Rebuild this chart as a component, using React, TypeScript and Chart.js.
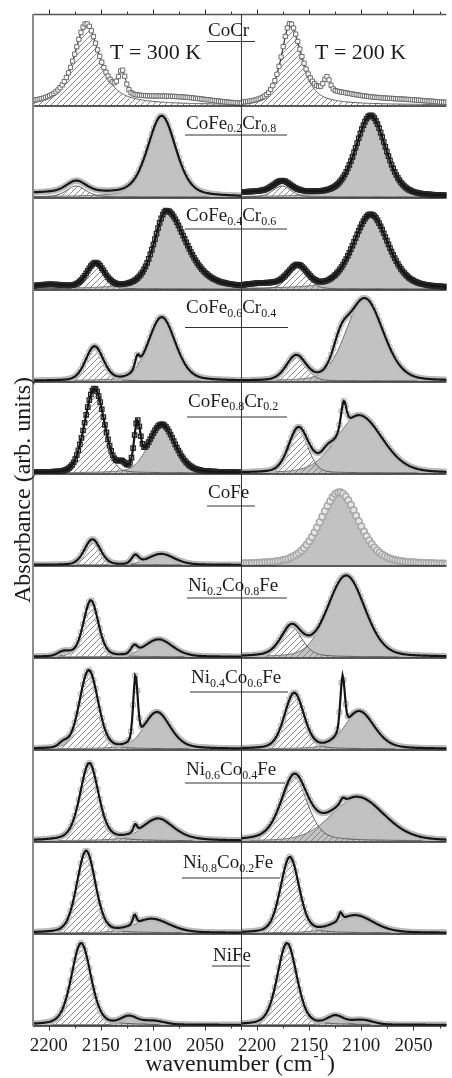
import React, { useEffect, useRef } from 'react';
import { Chart, registerables } from 'chart.js';

Chart.register(...registerables);

// ---------------- data ----------------
const ROW_LABELS: [string, boolean][][] = [
  [['CoCr', false]],
  [['CoFe', false], ['0.2', true], ['Cr', false], ['0.8', true]],
  [['CoFe', false], ['0.4', true], ['Cr', false], ['0.6', true]],
  [['CoFe', false], ['0.6', true], ['Cr', false], ['0.4', true]],
  [['CoFe', false], ['0.8', true], ['Cr', false], ['0.2', true]],
  [['CoFe', false]],
  [['Ni', false], ['0.2', true], ['Co', false], ['0.8', true], ['Fe', false]],
  [['Ni', false], ['0.4', true], ['Co', false], ['0.6', true], ['Fe', false]],
  [['Ni', false], ['0.6', true], ['Co', false], ['0.4', true], ['Fe', false]],
  [['Ni', false], ['0.8', true], ['Co', false], ['0.2', true], ['Fe', false]],
  [['NiFe', false]],
];
const TEMPERATURES = ['T = 300 K', 'T = 200 K'];
const X_TICKS_MAJOR = [2200, 2150, 2100, 2050];
const X_TICKS_MINOR = [2175, 2125, 2075, 2025];
const X_RANGE_LEFT = [2015, 2215];
const X_RANGE_RIGHT = [2018.4, 2215];
const X_TITLE = 'wavenumber (cm';
const X_TITLE_SUP = '-1';
const X_TITLE_END = ')';
const Y_TITLE = 'Absorbance (arb. units)';

// fitted bands:
// [centre (cm-1), height (fraction of panel), FWHM (cm-1), Lorentzian fraction, band, low-wavenumber width ratio]
// band: 'H' hatched, 'G' grey, 'N' not shaded
type Peak = [number, number, number, number, string, number?];
const PEAKS_300K: Peak[][] = [
  [[2164, 0.89, 28, 0.8, 'H', 1.1], [2129.5, 0.24, 8, 0.3, 'N'], [2080, 0.07, 80, 0, 'N']],
  [[2091.5, 0.88, 32, 0.35, 'G'], [2173.5, 0.12, 22, 0.3, 'H'], [2185, 0.05, 130, 0, 'N']],
  [[2087, 0.86, 28, 0.5, 'G', 1.6], [2155, 0.27, 20, 0.2, 'H'], [2200, 0.04, 40, 0, 'N']],
  [[2091.5, 0.70, 31, 0.3, 'G'], [2156, 0.37, 20, 0.2, 'H'], [2115, 0.12, 5, 0.2, 'N']],
  [[2156, 0.92, 22, 0.15, 'H'], [2115, 0.46, 7, 0.2, 'N'], [2091.5, 0.53, 30, 0.3, 'G'], [2130, 0.07, 8, 0, 'N']],
  [[2158, 0.28, 18, 0.2, 'H'], [2117, 0.09, 8, 0.2, 'N'], [2092, 0.12, 30, 0.3, 'G']],
  [[2159.5, 0.62, 17, 0.3, 'H'], [2185, 0.05, 14, 0, 'N'], [2118, 0.08, 7, 0.2, 'N'], [2094.5, 0.19, 32, 0.3, 'G']],
  [[2161.5, 0.86, 21, 0.2, 'H'], [2116.7, 0.69, 5, 0.2, 'N'], [2096, 0.40, 30, 0.35, 'G'], [2186, 0.05, 10, 0, 'N']],
  [[2161, 0.85, 21, 0.35, 'H'], [2117, 0.08, 4, 0.2, 'N'], [2095, 0.24, 36, 0.5, 'G']],
  [[2164, 0.90, 21, 0.25, 'H'], [2117.5, 0.10, 4, 0.2, 'N'], [2101, 0.15, 40, 0.3, 'G']],
  [[2168.8, 0.90, 22, 0.3, 'H'], [2123, 0.085, 18, 0.2, 'G'], [2100, 0.04, 25, 0, 'G']],
];
const PEAKS_200K: Peak[][] = [
  [[2168.5, 0.88, 20, 0.7, 'H', 1.3], [2133, 0.15, 7, 0.3, 'N'], [2125, 0.07, 50, 0.3, 'N'], [2075, 0.055, 100, 0, 'N']],
  [[2091, 0.89, 34, 0.35, 'G'], [2176, 0.12, 20, 0.3, 'H'], [2195, 0.05, 120, 0, 'N']],
  [[2091, 0.82, 40, 0.4, 'G'], [2161, 0.23, 22, 0.2, 'H'], [2195, 0.05, 50, 0, 'N']],
  [[2097, 0.91, 42, 0.2, 'G'], [2162.5, 0.27, 22, 0.2, 'H'], [2120, 0.2, 16, 0, 'N']],
  [[2160.5, 0.47, 22, 0.2, 'H'], [2117, 0.29, 6, 0.2, 'N'], [2102, 0.63, 52, 0.2, 'G'], [2133, 0.05, 10, 0, 'N']],
  [[2121, 0.80, 44, 0.4, 'G']],
  [[2167, 0.33, 24, 0.4, 'H'], [2114.5, 0.89, 42, 0.2, 'G']],
  [[2164.4, 0.61, 22, 0.25, 'H'], [2118, 0.58, 5, 0.2, 'N'], [2102, 0.41, 34, 0.3, 'G']],
  [[2164.4, 0.70, 30, 0.4, 'H'], [2103.6, 0.47, 60, 0.2, 'G'], [2118, 0.05, 5, 0.2, 'N']],
  [[2168.6, 0.83, 21, 0.25, 'H'], [2120, 0.08, 4, 0.2, 'N'], [2106, 0.19, 42, 0.3, 'G']],
  [[2171.3, 0.90, 22, 0.3, 'H'], [2125, 0.09, 18, 0.2, 'G'], [2100, 0.05, 25, 0, 'G']],
];
const MARKERS_300K = ['sqLight', 'circle', 'square', 'circle', 'square', 'circle', 'circle', 'circle', 'circle', 'circle', 'circle'];
const MARKERS_200K = ['sqLight', 'square', 'square', 'circle', 'circle', 'bigCircle', 'circle', 'circle', 'circle', 'circle', 'circle'];

// ---------------- layout / style ----------------
const W = 452;
const H = 1078;
const PAD = { left: 33, top: 14, right: 0, bottom: 52 };
const LEFT_WEIGHT = 211.3;
const RIGHT_WEIGHT = 207.7;
const LABEL_BASE = [22, 22.5, 23, 23, 24.5, 24, 25, 25, 25, 26, 27];
const LABEL_LINE_Y = [27.5, 29, 31, 37.5, 35, 32, 32, 34, 33, 36, 32];
const LABEL_LINE_X: [number, number][] = [
  [207, 255], [185, 287], [185, 287], [185, 288], [187, 287], [207, 255],
  [187, 287], [190, 288], [185, 285], [182, 280], [212, 250],
];
const SERIF = '"Liberation Serif", "Times New Roman", serif';
const TXT = '#1c1c1c';

const MARKER_STYLE: Record<string, any> = {
  sqLight: { pointStyle: 'rect', r: 3.0, border: '#6a6a6a', bg: '#ffffff', bw: 1, step: 2 },
  square: { pointStyle: 'rect', r: 3.1, border: '#262626', bg: 'rgba(255,255,255,0)', bw: 1.3, step: 1.5 },
  circle: { pointStyle: 'circle', r: 2.6, border: '#b9b9b9', bg: 'rgba(255,255,255,0)', bw: 1.2, step: 2 },
  bigCircle: { pointStyle: 'circle', r: 3.2, border: '#a8a8a8', bg: 'rgba(236,236,236,0.9)', bw: 1.6, step: 2.5 },
};

function bandValue(x: number, p: Peak): number {
  const [c, h, w, eta] = p;
  const ratio = x < c ? (p[5] ?? 1) : 1;
  const d = (x - c) / ((w / 2) * ratio);
  return h * (eta / (1 + d * d) + (1 - eta) * Math.exp(-Math.LN2 * d * d));
}

function total(x: number, peaks: Peak[]): number {
  let s = 0;
  for (const p of peaks) s += bandValue(x, p);
  return s;
}

function grid(step: number): number[] {
  const xs: number[] = [];
  for (let x = X_RANGE_LEFT[1]; x >= X_RANGE_LEFT[0] - 1e-6; x -= step) xs.push(x);
  return xs;
}

function buildDatasets(hatch: CanvasPattern | string) {
  const sets: any[] = [];
  const fine = grid(1);
  [PEAKS_300K, PEAKS_200K].forEach((panelPeaks, col) => {
    const xAxisID = col === 0 ? 'xL' : 'xR';
    const markerKinds = col === 0 ? MARKERS_300K : MARKERS_200K;
    panelPeaks.forEach((peaks, row) => {
      const yAxisID = 'y' + row;
      const common = { xAxisID, yAxisID, clip: 0, parsing: false, normalized: true, pointRadius: 0, tension: 0 };
      peaks.forEach((p) => {
        const kind = p[4];
        if (kind === 'N') return;
        const isH = kind === 'H';
        sets.push({
          ...common,
          data: fine.map((x) => ({ x, y: bandValue(x, p) })),
          fill: 'origin',
          backgroundColor: isH ? hatch : '#c2c2c2',
          borderColor: isH ? '#5a5a5a' : '#707070',
          borderWidth: 1,
          order: isH ? 5 : 6,
        });
      });
      const mk = MARKER_STYLE[markerKinds[row]];
      const mxs = grid(mk.step);
      sets.push({
        ...common,
        data: mxs.map((x) => ({ x, y: total(x, peaks) })),
        showLine: false,
        pointStyle: mk.pointStyle,
        pointRadius: mk.r,
        pointBorderColor: mk.border,
        pointBackgroundColor: mk.bg,
        pointBorderWidth: mk.bw,
        order: 2,
      });
      if (markerKinds[row] !== 'bigCircle') {
        const thin = markerKinds[row] === 'sqLight';
        sets.push({
          ...common,
          data: fine.map((x) => ({ x, y: total(x, peaks) })),
          fill: false,
          borderColor: thin ? '#3a3a3a' : '#151515',
          borderWidth: thin ? 1 : 2.2,
          order: thin ? 3 : 1,
        });
      }
    });
  });
  return sets;
}

function drawParts(ctx: CanvasRenderingContext2D, parts: [string, boolean][], x: number, y: number, size: number, subSize: number) {
  let cx = x;
  ctx.textAlign = 'left';
  ctx.textBaseline = 'alphabetic';
  for (const [t, sub] of parts) {
    ctx.font = `${sub ? subSize : size}px ${SERIF}`;
    ctx.fillText(t, cx, y + (sub ? size * 0.2 : 0));
    cx += ctx.measureText(t).width;
  }
}

const decorPlugin = {
  id: 'decor',
  afterDatasetsDraw(chart: any) {
    const ctx: CanvasRenderingContext2D = chart.ctx;
    const xL = chart.scales.xL;
    const xR = chart.scales.xR;
    const rows = ROW_LABELS.map((_, i) => chart.scales['y' + i]);
    const top = rows[0].top;
    const bottom = rows[rows.length - 1].bottom;
    const left = xL.left;
    const right = chart.chartArea.right;
    ctx.save();

    // frame
    ctx.strokeStyle = '#555';
    ctx.lineWidth = 1.3;
    ctx.beginPath();
    ctx.moveTo(left, top + 0.5);
    ctx.lineTo(right, top + 0.5);
    ctx.stroke();
    ctx.strokeStyle = '#222';
    ctx.lineWidth = 1.6;
    rows.forEach((s: any) => {
      ctx.beginPath();
      ctx.moveTo(left, s.bottom);
      ctx.lineTo(right, s.bottom);
      ctx.stroke();
    });
    ctx.strokeStyle = '#8c8c8c';
    ctx.lineWidth = 2;
    ctx.beginPath();
    ctx.moveTo(left, top);
    ctx.lineTo(left, bottom);
    ctx.stroke();
    ctx.strokeStyle = '#333';
    ctx.lineWidth = 1;
    ctx.beginPath();
    ctx.moveTo(xL.right, top);
    ctx.lineTo(xL.right, bottom + 4);
    ctx.stroke();

    // ticks
    ctx.strokeStyle = '#333';
    ctx.lineWidth = 1;
    [xL, xR].forEach((sc: any) => {
      const all = [...X_TICKS_MAJOR.map((v) => [v, 4.5]), ...X_TICKS_MINOR.map((v) => [v, 2.5])];
      all.forEach(([v, len]) => {
        const px = Math.round(sc.getPixelForValue(v)) + 0.5;
        if (px < sc.left + 1 || px > sc.right - 1) return;
        ctx.beginPath();
        ctx.moveTo(px, bottom);
        ctx.lineTo(px, bottom + len);
        ctx.moveTo(px, top);
        ctx.lineTo(px, top - len);
        ctx.stroke();
      });
    });

    // tick labels
    ctx.fillStyle = TXT;
    ctx.font = `19px ${SERIF}`;
    ctx.textAlign = 'center';
    ctx.textBaseline = 'alphabetic';
    [xL, xR].forEach((sc: any) => {
      X_TICKS_MAJOR.forEach((v) => {
        ctx.fillText(String(v), sc.getPixelForValue(v), 1051);
      });
    });

    // x title
    ctx.font = `24px ${SERIF}`;
    const w1 = ctx.measureText(X_TITLE).width;
    const w3 = ctx.measureText(X_TITLE_END).width;
    ctx.font = `15px ${SERIF}`;
    const w2 = ctx.measureText(X_TITLE_SUP).width;
    let sx = 240 - (w1 + w2 + w3 + 2) / 2;
    ctx.textAlign = 'left';
    ctx.font = `24px ${SERIF}`;
    ctx.fillText(X_TITLE, sx, 1071);
    sx += w1 + 1;
    ctx.font = `15px ${SERIF}`;
    ctx.fillText(X_TITLE_SUP, sx, 1060);
    sx += w2 + 1;
    ctx.font = `24px ${SERIF}`;
    ctx.fillText(X_TITLE_END, sx, 1071);

    // y title
    ctx.save();
    ctx.translate(30, 490);
    ctx.rotate(-Math.PI / 2);
    ctx.textAlign = 'center';
    ctx.font = `24px ${SERIF}`;
    ctx.fillText(Y_TITLE, 0, 0);
    ctx.restore();

    // temperatures
    ctx.font = `22px ${SERIF}`;
    ctx.textAlign = 'left';
    ctx.fillText(TEMPERATURES[0], 110, top + 45);
    ctx.fillText(TEMPERATURES[1], 315, top + 45);

    // row labels
    rows.forEach((s: any, i: number) => {
      const [x0, x1] = LABEL_LINE_X[i];
      ctx.fillStyle = TXT;
      drawParts(ctx, ROW_LABELS[i], x0 + 1, s.top + LABEL_BASE[i], 19, 12);
      ctx.strokeStyle = '#333';
      ctx.lineWidth = 1.1;
      ctx.beginPath();
      ctx.moveTo(x0, s.top + LABEL_LINE_Y[i]);
      ctx.lineTo(x1, s.top + LABEL_LINE_Y[i]);
      ctx.stroke();
    });
    ctx.restore();
  },
};

export default function App() {
  const ref = useRef<HTMLCanvasElement>(null);
  useEffect(() => {
    document.body.style.margin = '0';
    const canvas = ref.current;
    if (!canvas) return;
    const c = canvas.getContext('2d')!;
    const tile = document.createElement('canvas');
    tile.width = 6;
    tile.height = 6;
    const g = tile.getContext('2d')!;
    g.strokeStyle = '#7a7a7a';
    g.lineWidth = 0.9;
    g.beginPath();
    g.moveTo(-1, 7);
    g.lineTo(7, -1);
    g.moveTo(-1, 1);
    g.lineTo(1, -1);
    g.moveTo(5, 7);
    g.lineTo(7, 5);
    g.stroke();
    const hatch = c.createPattern(tile, 'repeat') || '#ddd';

    const scales: any = {
      xL: { type: 'linear', position: 'bottom', stack: 'x', stackWeight: LEFT_WEIGHT, weight: 1, min: X_RANGE_LEFT[0], max: X_RANGE_LEFT[1], reverse: true, display: false },
      xR: { type: 'linear', position: 'bottom', stack: 'x', stackWeight: RIGHT_WEIGHT, weight: 2, min: X_RANGE_RIGHT[0], max: X_RANGE_RIGHT[1], reverse: true, display: false },
    };
    ROW_LABELS.forEach((_, i) => {
      scales['y' + i] = { type: 'linear', position: 'left', stack: 'y', stackWeight: 1, weight: 30 - i, min: -0.012, max: 1, display: false };
    });

    const chart = new Chart(canvas, {
      type: 'line',
      data: { datasets: buildDatasets(hatch) },
      options: {
        responsive: false,
        animation: false,
        devicePixelRatio: 1,
        events: [],
        layout: { padding: PAD },
        plugins: { legend: { display: false }, tooltip: { enabled: false } },
        scales,
      },
      plugins: [decorPlugin],
    } as any);
    return () => chart.destroy();
  }, []);
  return <canvas ref={ref} width={W} height={H} style={{ display: 'block', width: W + 'px', height: H + 'px' }} />;
}
